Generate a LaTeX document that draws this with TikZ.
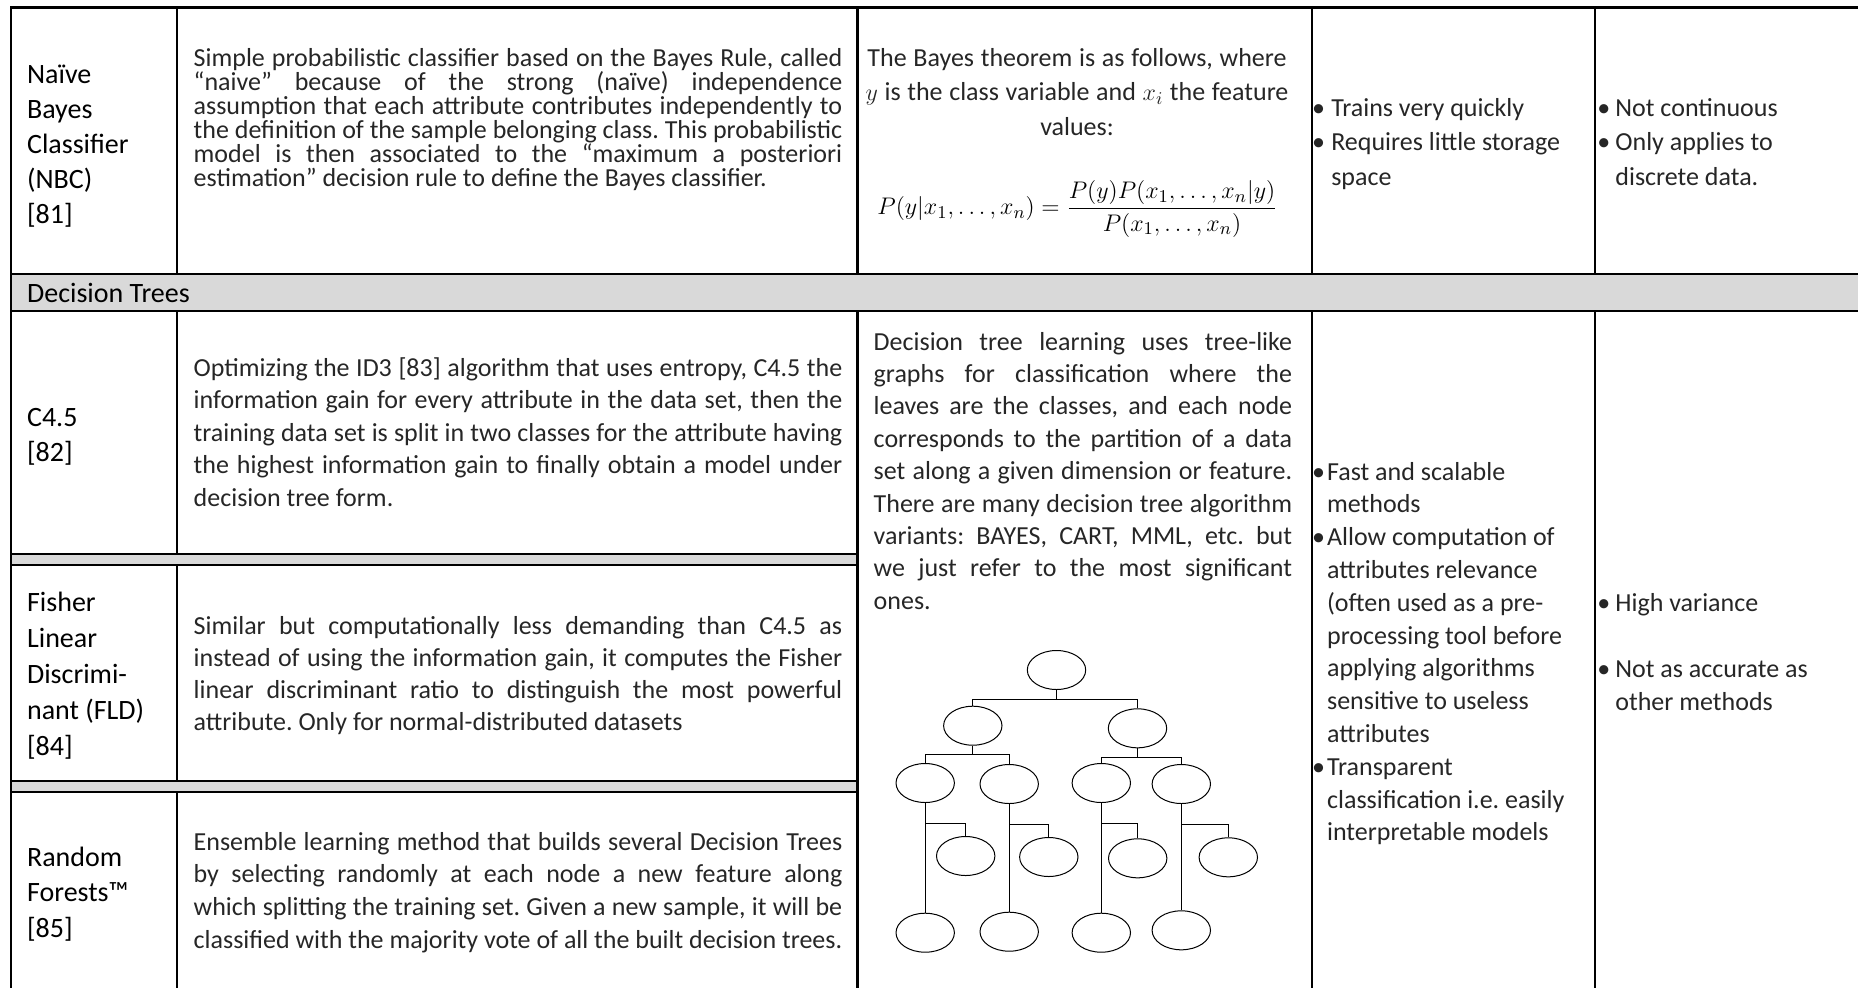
\documentclass[tikz,border=0pt]{standalone}
\usepackage{fontspec}
\setmainfont{Carlito}
\usetikzlibrary{shapes.geometric, positioning}
\frenchspacing

\definecolor{bandgray}{HTML}{D9D9D9}
% natural, stretchable word spaces inside nodes
\newcommand{\natsp}{\spaceskip=0pt\xspaceskip=0pt\lineskiplimit=-100pt\relax}
% one justified line of a description cell
\newcommand{\jla}[1]{\makebox[324.3pt][s]{#1}\\}
\newcommand{\jlb}[1]{\makebox[209.2pt][s]{#1}\\}
% bullets of the pros / cons cells
\newcommand{\bpa}{\makebox[9.6pt][l]{\textbullet}}
\newcommand{\bpc}{\makebox[7.5pt][l]{\textbullet}}
\newcommand{\bpb}{\makebox[9pt][l]{\textbullet}}

\begin{document}
\begin{tikzpicture}[x=0.5pt, y=-0.5pt,
    tabline/.style={line width=1.2pt, line cap=rect},
    lbl/.style={anchor=base west, inner sep=0pt, align=left, text width=80pt, font=\fontsize{14}{17.5}\selectfont},
    desc/.style={anchor=base west, inner sep=0pt, align=left, text width=324.3pt, text=black!85},
    pro/.style={anchor=base west, inner sep=0pt, align=left, text width=140pt, text=black!85},
    leaf/.style={draw, ellipse, line width=0.5pt, minimum width=29.2pt, minimum height=19.5pt, inner sep=0pt},
    branch/.style={line width=0.5pt}]
  \useasboundingbox (0,0) rectangle (1858,987);

  % grey bands
  \fill[bandgray] (11,274) rectangle (1858,311);
  \fill[bandgray] (11,554) rectangle (857.3,565);
  \fill[bandgray] (11,781) rectangle (857.3,792);

  % table rules
  \draw[tabline] (11,7.5) -- (1858,7.5);
  \draw[tabline] (11,274) -- (1858,274);
  \draw[tabline] (11,311) -- (1858,311);
  \draw[tabline] (11,554) -- (857.3,554) (11,565) -- (857.3,565);
  \draw[tabline] (11,781) -- (857.3,781) (11,792) -- (857.3,792);
  \draw[tabline] (11,7.5) -- (11,990);
  \foreach \x in {176.7, 857.3, 1311.7, 1595}
    \draw[tabline] (\x,7.5) -- (\x,274);
  \foreach \x in {857.3, 1311.7, 1595}
    \draw[tabline] (\x,311) -- (\x,990);
  \draw[tabline] (176.7,311) -- (176.7,554) (176.7,565) -- (176.7,781) (176.7,792) -- (176.7,990);

  % first column
  \node[lbl] (nbc) at (26.7,83) {\natsp Naïve\\Bayes\\Classifier\\(NBC)\\{[81]}};
  \node[lbl, text width=200pt] (band) at (26.7,302) {\natsp Decision Trees};
  \node[lbl] (cfour) at (26.7,426) {\natsp C4.5\\{[82]}};
  \node[lbl, font=\fontsize{14}{18.1}\selectfont] (fld) at (26.7,611) {\natsp Fisher\\Linear\\Discrimi-\\nant (FLD)\\{[84]}};
  \node[lbl, font=\fontsize{14}{17.9}\selectfont] (rf) at (26.7,866) {\natsp Random\\Forests™\\{[85]}};

  % descriptions
  \node[desc, font=\fontsize{13}{12}\selectfont] (nbcdesc) at (193.3,66) {\natsp
    \jla{Simple probabilistic classifier based on the Bayes Rule, called}
    \jla{“naive” because of the strong (naïve) independence}
    \jla{assumption that each attribute contributes independently to}
    \jla{the definition of the sample belonging class. This probabilistic}
    \jla{model is then associated to the “maximum a posteriori}
    estimation” decision rule to define the Bayes classifier.};
  \node[desc, font=\fontsize{13}{16.25}\selectfont] (cfourdesc) at (193.3,376) {\natsp
    \jla{Optimizing the ID3 [83] algorithm that uses entropy, C4.5 the}
    \jla{information gain for every attribute in the data set, then the}
    \jla{training data set is split in two classes for the attribute having}
    \jla{the highest information gain to finally obtain a model under}
    decision tree form.};
  \node[desc, font=\fontsize{13}{16.15}\selectfont] (flddesc) at (193.3,634) {\natsp
    \jla{Similar but computationally less demanding than C4.5 as}
    \jla{instead of using the information gain, it computes the Fisher}
    \jla{linear discriminant ratio to distinguish the most powerful}
    attribute. Only for normal-distributed datasets};
  \node[desc, font=\fontsize{13}{16.4}\selectfont] (rfdesc) at (193.3,850) {\natsp
    \jla{Ensemble learning method that builds several Decision Trees}
    \jla{by selecting randomly at each node a new feature along}
    \jla{which splitting the training set. Given a new sample, it will be}
    classified with the majority vote of all the built decision trees.};

  % Bayes theorem cell
  \node[anchor=base, inner sep=0pt, align=center, text width=225pt, text=black!85, font=\fontsize{13}{17.25}\selectfont] (bayes) at (1077,66)
    {\natsp The Bayes theorem is as follows, where\\$y$ is the class variable and $x_i$ the feature\\values:};
  \node[inner sep=0pt, font=\fontsize{12.4}{15}\selectfont] (formula) at (1077.5,209)
    {$\displaystyle P(y|x_1,\ldots,x_n)=\frac{P(y)P(x_1,\ldots,x_n|y)}{P(x_1,\ldots,x_n)}$};

  % decision tree cell
  \node[desc, text width=209.2pt, font=\fontsize{13}{16.2}\selectfont] (dtdesc) at (873.3,350) {\natsp
    \jlb{Decision tree learning uses tree-like}
    \jlb{graphs for classification where the}
    \jlb{leaves are the classes, and each node}
    \jlb{corresponds to the partition of a data}
    \jlb{set along a given dimension or feature.}
    \jlb{There are many decision tree algorithm}
    \jlb{variants: BAYES, CART, MML, etc. but}
    \jlb{we just refer to the most significant}
    ones.};

  % pros and cons
  \node[pro, font=\fontsize{13}{17.25}\selectfont] (nbcpro) at (1311.7,116)
    {\natsp\bpa Trains very quickly\\\bpa Requires little storage\\\hspace*{9.6pt}space};
  \node[pro, font=\fontsize{13}{17.25}\selectfont] (nbccon) at (1597,116)
    {\natsp\bpb Not continuous\\\bpb Only applies to\\\hspace*{9pt}discrete data.};
  \node[pro, font=\fontsize{13}{16.4}\selectfont] (dtpro) at (1311.7,480)
    {\natsp\bpc Fast and scalable\\\hspace*{7.5pt}methods\\\bpc Allow computation of\\\hspace*{7.5pt}attributes relevance\\\hspace*{7.5pt}(often used as a pre-\\\hspace*{7.5pt}processing tool before\\\hspace*{7.5pt}applying algorithms\\\hspace*{7.5pt}sensitive to useless\\\hspace*{7.5pt}attributes\\\bpc Transparent\\\hspace*{7.5pt}classification i.e. easily\\\hspace*{7.5pt}interpretable models};
  \node[pro, font=\fontsize{13}{16.5}\selectfont] (dtcon) at (1597,611)
    {\natsp\bpb High variance\\\mbox{}\\\bpb Not as accurate as\\\hspace*{9pt}other methods};

  % tree drawing
  \node[leaf] (root) at (1056.5,670) {};
  \node[leaf] (dl) at (972.8,725.7) {};
  \node[leaf] (dr) at (1137.5,728.3) {};
  \node[leaf] (l2a) at (925.2,783) {};
  \node[leaf] (l2b) at (1009.2,784) {};
  \node[leaf] (l2c) at (1101.3,783) {};
  \node[leaf] (l2d) at (1181.3,784) {};
  \node[leaf] (l3a) at (965.7,856) {};
  \node[leaf] (l3b) at (1048.8,857) {};
  \node[leaf] (l3c) at (1137.7,858.3) {};
  \node[leaf] (l3d) at (1228.3,857.3) {};
  \node[leaf] (l4a) at (925.2,932.7) {};
  \node[leaf] (l4b) at (1009.2,931.7) {};
  \node[leaf] (l4c) at (1101.3,932.7) {};
  \node[leaf] (l4d) at (1181.3,930.3) {};

  \draw[branch] (root.south) -- ++(0,9.5) coordinate (rootbar);
  \draw[branch] (dl.north) |- (rootbar) -| (dr.north);
  \draw[branch] (dl.south) -- ++(0,9) coordinate (dlbar);
  \draw[branch] (l2a.north) |- (dlbar) -| (l2b.north);
  \draw[branch] (dr.south) -- ++(0,9) coordinate (drbar);
  \draw[branch] (l2c.north) |- (drbar) -| (l2d.north);
  \foreach \k in {a,b,c,d} {
    \draw[branch] (l2\k.south) -- (l4\k.north);
    \draw[branch] (l2\k.south) ++(0,20) -| (l3\k.north);
  }
\end{tikzpicture}
\end{document}
